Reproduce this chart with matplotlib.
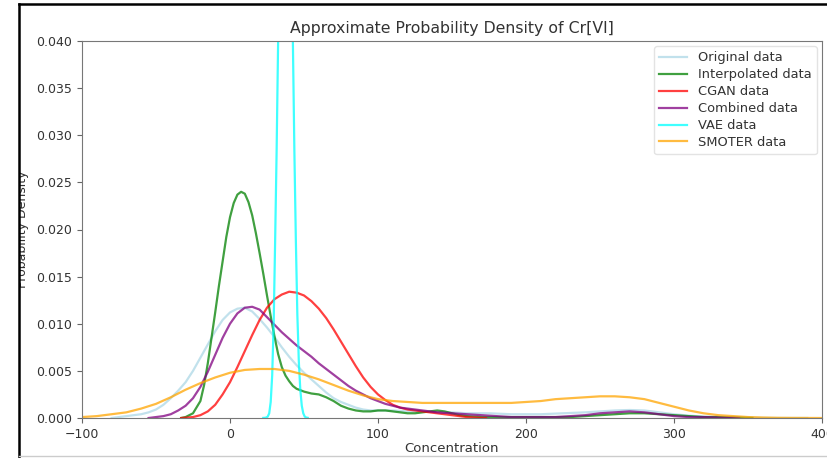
import matplotlib
matplotlib.use("Agg")
import matplotlib.pyplot as plt
from matplotlib.lines import Line2D

# ---------------- data ----------------
orig_x = [-80, -70, -60, -55, -50, -45, -40, -35, -30, -25, -20, -15, -10, -5, 0, 5, 10, 15, 20, 25,
          30, 35, 40, 45, 50, 55, 60, 65, 70, 75, 80, 85, 90, 95, 100, 110, 120, 130, 140, 150, 160,
          175, 190, 200, 210, 225, 240, 250, 260, 270, 280, 290, 300, 310, 320, 330, 340, 353, 370, 390]
orig_y = [0.0, 0.0002, 0.0004, 0.0006, 0.0009, 0.0014, 0.0021, 0.0029, 0.0038, 0.0050, 0.0064, 0.0078,
          0.0092, 0.0104, 0.0112, 0.0116, 0.0117, 0.0113, 0.0105, 0.0096, 0.0086, 0.0075, 0.0065, 0.0056,
          0.0048, 0.0041, 0.0034, 0.0027, 0.0021, 0.0017, 0.0014, 0.0011, 0.0009, 0.0008, 0.0008, 0.0008,
          0.0007, 0.0007, 0.0006, 0.0006, 0.0005, 0.0005, 0.0004, 0.0004, 0.0004, 0.0005, 0.0006, 0.0007,
          0.0008, 0.00085, 0.0008, 0.0006, 0.0004, 0.00025, 0.00015, 0.0001, 0.00005, 0.00002, 0.0, 0.0]

interp_x = [-33, -30, -25, -20, -17.5, -15, -12.5, -10, -7.5, -5, -2.5, 0, 2.5, 5, 7.5, 10, 12.5, 15,
            17.5, 20, 22.5, 25, 27.5, 30, 32.5, 35, 37.5, 40, 42.5, 45, 50, 55, 60, 65, 70, 75, 80, 85,
            90, 95, 100, 105, 110, 115, 120, 125, 130, 135, 140, 145, 150, 155, 160, 170, 180, 190, 200,
            210, 220, 230, 240, 250, 260, 270, 280, 290, 300, 310, 320, 330, 340, 353]
interp_y = [0.0, 0.0001, 0.0005, 0.0018, 0.0035, 0.0058, 0.0085, 0.0112, 0.0140, 0.0166, 0.0192, 0.0213,
            0.0228, 0.0237, 0.0240, 0.0238, 0.0229, 0.0215, 0.0196, 0.0175, 0.0153, 0.0130, 0.0108,
            0.0087, 0.0068, 0.0054, 0.0045, 0.0039, 0.0034, 0.0031, 0.0028, 0.0026, 0.0025, 0.0022,
            0.0018, 0.0013, 0.0010, 0.0008, 0.0007, 0.0007, 0.0008, 0.0008, 0.0007, 0.0006, 0.0005,
            0.0005, 0.0006, 0.0007, 0.0008, 0.0007, 0.0005, 0.0003, 0.0002, 0.0001, 0.0001, 0.0001,
            0.0001, 0.0001, 0.0001, 0.0001, 0.0002, 0.0003, 0.0004, 0.0005, 0.0005, 0.0004, 0.0003,
            0.0002, 0.0001, 0.0001, 0.00005, 0.0]

cgan_x = [-33, -25, -20, -15, -10, -5, 0, 5, 10, 15, 20, 25, 30, 35, 40, 45, 50, 55, 60, 65, 70, 75,
          80, 85, 90, 95, 100, 105, 110, 115, 120, 125, 130, 135, 140, 145, 150, 155, 160, 165, 173]
cgan_y = [0.0, 0.0001, 0.0003, 0.0007, 0.0014, 0.0025, 0.0038, 0.0054, 0.0071, 0.0088, 0.0104, 0.0117,
          0.0126, 0.0131, 0.0134, 0.0133, 0.0130, 0.0124, 0.0116, 0.0106, 0.0094, 0.0081, 0.0068,
          0.0055, 0.0043, 0.0033, 0.0025, 0.0019, 0.0014, 0.0011, 0.0009, 0.0008, 0.0007, 0.0006,
          0.0005, 0.0004, 0.0003, 0.0002, 0.0001, 0.00005, 0.0]

comb_x = [-55, -50, -45, -40, -35, -30, -25, -20, -15, -10, -5, 0, 5, 10, 15, 20, 25, 30, 35, 40, 45,
          50, 55, 60, 65, 70, 75, 80, 85, 90, 95, 100, 105, 110, 115, 120, 130, 140, 150, 160, 170,
          180, 190, 200, 210, 220, 230, 240, 250, 260, 270, 280, 290, 300, 310, 320, 330, 344]
comb_y = [0.0, 0.0001, 0.0002, 0.0004, 0.0008, 0.0013, 0.0021, 0.0033, 0.0049, 0.0067, 0.0085, 0.0100,
          0.0111, 0.0117, 0.0118, 0.0115, 0.0107, 0.0099, 0.0091, 0.0084, 0.0077, 0.0071, 0.0065,
          0.0058, 0.0052, 0.0046, 0.0040, 0.0034, 0.0029, 0.0025, 0.0021, 0.0018, 0.0015, 0.0013,
          0.0011, 0.0010, 0.0008, 0.0006, 0.0005, 0.0004, 0.0003, 0.0002, 0.0001, 0.0001, 0.0001,
          0.0001, 0.0002, 0.0003, 0.0005, 0.0006, 0.0007, 0.0006, 0.0004, 0.0002, 0.0001, 0.0001,
          0.00005, 0.0]

vae_x = [22.5, 23.5, 24.5, 25.5, 26.5, 27.5, 28.5, 29.5, 30.5, 31.5, 32.5, 33.5, 34.5, 35.5,
         36.5, 37.5, 38.5, 39.5, 40.5, 41.5, 42.5, 43.5, 44.5, 45.5, 46.5, 47.5, 48.5, 49.5, 50.5,
         51.5, 52.5]
vae_y = [0.00001, 0.00002, 0.00005, 0.00015, 0.0005, 0.0017, 0.0045, 0.0100, 0.0188, 0.0283,
         0.0398, 0.0528, 0.0657, 0.0768, 0.0843, 0.0870, 0.0843, 0.0768, 0.0657, 0.0528, 0.0398,
         0.0283, 0.0188, 0.0110, 0.0060, 0.0030, 0.0013, 0.0005, 0.00015, 0.00005, 0.00002]

smoter_x = [-100, -90, -80, -70, -60, -50, -40, -30, -20, -10, 0, 10, 20, 30, 40, 50, 60, 70, 80, 90,
            100, 110, 120, 130, 140, 150, 160, 170, 180, 190, 200, 210, 220, 230, 240, 250, 260, 270,
            280, 290, 300, 310, 320, 330, 340, 350, 360, 370, 380, 400]
smoter_y = [0.0001, 0.0002, 0.0004, 0.0006, 0.0010, 0.0015, 0.0022, 0.0030, 0.0037, 0.0043, 0.0048,
            0.0051, 0.0052, 0.0052, 0.0050, 0.0046, 0.0041, 0.0035, 0.0029, 0.0024, 0.0020, 0.0018,
            0.0017, 0.0016, 0.0016, 0.0016, 0.0016, 0.0016, 0.0016, 0.0016, 0.0017, 0.0018, 0.0020,
            0.0021, 0.0022, 0.0023, 0.0023, 0.0022, 0.0020, 0.0016, 0.0012, 0.0008, 0.0005, 0.0003,
            0.0002, 0.0001, 0.00005, 0.00002, 0.00001, 0.0]

series = [
    ("Original data", orig_x, orig_y, "lightblue"),
    ("Interpolated data", interp_x, interp_y, "green"),
    ("CGAN data", cgan_x, cgan_y, "red"),
    ("Combined data", comb_x, comb_y, "purple"),
    ("VAE data", vae_x, vae_y, "cyan"),
    ("SMOTER data", smoter_x, smoter_y, "orange"),
]

title = "Approximate Probability Density of Cr[VI]"
xlabel = "Concentration"
ylabel = "Probability Density"

# ---------------- figure ----------------
TXT = "#333333"
plt.rcParams["font.family"] = ["DejaVu Sans"]
plt.rcParams["font.size"] = 9

fig = plt.figure(figsize=(8.28, 4.58), dpi=100)
ax = fig.add_axes([82 / 828, 1 - 418 / 458, 740 / 828, 377 / 458])

for name, xs, ys, col in series:
    ax.plot(xs, ys, color=col, lw=1.6, alpha=0.75, label=name)

ax.set_xlim(-100, 400)
ax.set_ylim(0, 0.04)
ax.set_xticks([-100, 0, 100, 200, 300, 400])
ax.set_yticks([0.0, 0.005, 0.01, 0.015, 0.02, 0.025, 0.03, 0.035, 0.04])
ax.set_yticklabels([f"{v:.3f}" for v in ax.get_yticks()])
ax.tick_params(colors="#666666", labelcolor=TXT, labelsize=9, length=3.5)
for sp in ax.spines.values():
    sp.set_color("#777777")

ax.set_title(title, fontsize=11.3, color=TXT, pad=6)
ax.set_xlabel(xlabel, fontsize=9.5, color=TXT, labelpad=1)
ax.set_ylabel(ylabel, fontsize=9, color=TXT)
ax.yaxis.set_label_coords(-53 / 740, 0.5)

leg = ax.legend(loc="upper right", fontsize=9.4, frameon=True, handlelength=2.15,
                labelspacing=0.3, borderpad=0.4, borderaxespad=0.4)
leg.get_frame().set_edgecolor("#dddddd")
for t in leg.get_texts():
    t.set_color(TXT)

# screenshot frame: white margin at left, black border, grey bottom line
fig.patches.append(plt.Rectangle((0, 0), 19.5 / 828, 1, transform=fig.transFigure,
                                 facecolor="white", edgecolor="none", zorder=10))
fig.add_artist(Line2D([19.5 / 828, 19.5 / 828], [0, 1 - 4 / 458], transform=fig.transFigure,
                      color="black", lw=1.8, zorder=11))
fig.add_artist(Line2D([19.5 / 828, 1], [1 - 4 / 458, 1 - 4 / 458], transform=fig.transFigure,
                      color="black", lw=1.8, zorder=11))
fig.add_artist(Line2D([19.5 / 828, 1], [1 - 456 / 458, 1 - 456 / 458], transform=fig.transFigure,
                      color="#cccccc", lw=1.0, zorder=11))

fig.savefig("out.png", dpi=100)
